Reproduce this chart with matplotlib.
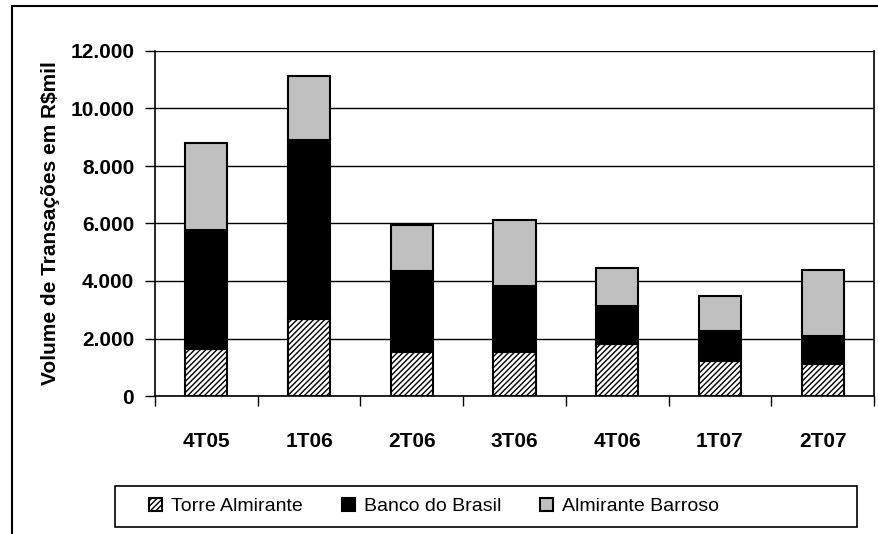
import matplotlib.pyplot as plt
import numpy as np
from matplotlib.patches import Rectangle
from matplotlib.ticker import FuncFormatter

plt.rcParams['font.family'] = ['Liberation Sans', 'DejaVu Sans']
plt.rcParams['hatch.color'] = '#333333'
plt.rcParams['hatch.linewidth'] = 1.0

quarters = ['4T05', '1T06', '2T06', '3T06', '4T06', '1T07', '2T07']
torre = [1650, 2680, 1540, 1540, 1810, 1210, 1120]
banco = [4130, 6220, 2810, 2290, 1330, 1060, 980]
barroso = [3020, 2220, 1600, 2280, 1310, 1210, 2290]
series_names = ['Torre Almirante', 'Banco do Brasil', 'Almirante Barroso']

fig = plt.figure(figsize=(8.79, 5.34), dpi=100)
ax = fig.add_axes([155/879, 138/534, 719/879, 345/534])

x = np.arange(len(quarters))
w = 0.41
b1 = ax.bar(x, torre, w, color='white', edgecolor='black', hatch='//////', linewidth=1.5, label=series_names[0], zorder=3)
b2 = ax.bar(x, banco, w, bottom=torre, color='black', edgecolor='black', linewidth=1.5, label=series_names[1], zorder=3)
bottom2 = np.array(torre) + np.array(banco)
b3 = ax.bar(x, barroso, w, bottom=bottom2, color='#c0c0c0', edgecolor='black', linewidth=1.5, label=series_names[2], zorder=3)

ax.set_xlim(-0.5, len(quarters) - 0.5)
ax.set_ylim(0, 12000)
ax.set_yticks(range(0, 12001, 2000))
ax.yaxis.set_major_formatter(FuncFormatter(lambda v, p: f'{int(v):,}'.replace(',', '.')))
ax.yaxis.grid(True, color='black', linewidth=1.0, zorder=0)
ax.set_axisbelow(True)

ax.set_xticks(x)
ax.set_xticklabels(quarters, fontsize=15, fontweight='bold')
ax.set_xticks(np.arange(-0.5, len(quarters)), minor=True)
ax.tick_params(axis='x', which='major', length=0, pad=26)
ax.tick_params(axis='x', which='minor', length=7, width=1, direction='out')
ax.tick_params(axis='y', length=7, width=1, direction='out', pad=8, labelsize=15)
for lbl in ax.get_yticklabels():
    lbl.set_fontweight('bold')

for s in ['left', 'bottom', 'right']:
    ax.spines[s].set_linewidth(1.2)
ax.spines['top'].set_visible(False)

ax.set_ylabel('Volume de Transações em R$mil', fontsize=15, fontweight='bold')
ax.yaxis.set_label_coords(-0.132, 0.5)

# legend box drawn separately so the entries can sit left like the original
fig.patches.append(Rectangle((115/879, 7/534), 742/879, 41/534, transform=fig.transFigure,
                             fill=False, edgecolor='black', linewidth=1.2))
fig.legend(handles=[b1, b2, b3], loc='center left', ncol=3,
           bbox_to_anchor=(149/879, 27.5/534),
           fontsize=14, frameon=False,
           handlelength=0.68, handleheight=0.68, handletextpad=0.46,
           columnspacing=2.0, borderaxespad=0, borderpad=0)

fig.patches.append(Rectangle((12/879, -0.1), 1.2, 1.1 - 6/534, transform=fig.transFigure,
                             fill=False, edgecolor='black', linewidth=1.5))

fig.savefig('out.png', dpi=100)
